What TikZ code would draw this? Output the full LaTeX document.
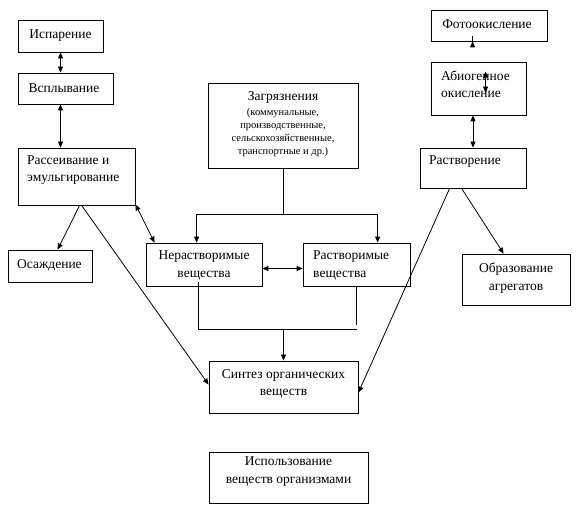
\documentclass[tikz,border=0pt]{standalone}
\usepackage{fontspec}
\setmainfont{Liberation Serif}
\usetikzlibrary{arrows.meta,calc}
\begin{document}
\begin{tikzpicture}[x=1pt,y=-1pt,
  box/.style={draw,line width=0.8pt,inner sep=0pt},
  txt/.style={inner sep=0pt,font=\fontsize{13.5}{17.5}\selectfont},
  small/.style={inner sep=0pt,font=\fontsize{10.5}{13.2}\selectfont},
  conn/.style={line width=0.8pt},
  arr/.style={conn,-{Triangle[length=6pt,width=5pt]}},
  dbl/.style={conn,{Triangle[length=6pt,width=5pt]}-{Triangle[length=6pt,width=5pt]}}]
\useasboundingbox (0,0) rectangle (578,510);
% boxes
\node[box,minimum width=85,minimum height=32,txt] (isp) at (60.5,36) {Испарение};
\node[box,minimum width=95,minimum height=31] (vsp) at (65.5,88.5) {};
\node[box,minimum width=117,minimum height=57] (ras) at (76.5,176.5) {};
\node[box,minimum width=84,minimum height=32] (osa) at (50,266) {};
\node[box,minimum width=116,minimum height=31] (foto) at (489,25.5) {};
\node[box,minimum width=95,minimum height=53] (abio) at (478.5,88.5) {};
\node[box,minimum width=106,minimum height=40] (rast) at (473,168) {};
\node[box,minimum width=108,minimum height=51] (obr) at (516,279.5) {};
\node[box,minimum width=150,minimum height=85] (zag) at (283,125.5) {};
\node[box,minimum width=116,minimum height=43] (nera) at (204,264.5) {};
\node[box,minimum width=107,minimum height=43] (raso) at (356.5,264.5) {};
\node[box,minimum width=149,minimum height=52] (sin) at (283.5,387) {};
\node[box,minimum width=159,minimum height=51] (isp2) at (288.5,477.5) {};
% texts
\node[txt] (tvsp) at (64,88) {Всплывание};
\node[txt,anchor=west,align=left] (tras) at (27,170) {Рассеивание и\\эмульгирование};
\node[txt,anchor=west] (tosa) at (17,265) {Осаждение};
\node[txt] (tfoto) at (487,24) {Фотоокисление};
\node[txt,anchor=west,align=left] (tabio) at (441,84) {Абиогенное\\окисление};
\node[txt,anchor=west] (trast) at (429,162) {Растворение};
\node[txt,align=center] (tobr) at (516,278) {Образование\\агрегатов};
\node[txt] (tzag) at (283,97) {Загрязнения};
\node[small,align=center] (tzag2) at (283,132.5) {(коммунальные,\\производственные,\\сельскохозяйственные,\\транспортные и др.)};
\node[txt,align=center] (tnera) at (204,265.5) {Нерастворимые\\вещества};
\node[txt,anchor=west,align=left] (traso) at (313,265.5) {Растворимые\\вещества};
\node[txt,align=center] (tsin) at (283.5,384) {Синтез органических\\веществ};
\node[txt,align=center] (tisp2) at (288.5,471.5) {Использование\\веществ организмами};
% connectors left
\draw[dbl] (isp.south) -- (isp.south |- vsp.north);
\draw[dbl] (vsp.south -| isp.south) -- (ras.north -| isp.south);
\draw[arr] ($(ras.south west)+(62,0)$) -- ($(osa.north west)+(50,0)$);
\draw[arr] ($(ras.south west)+(64,0)$) -- ($(sin.north west)+(0,24)$);
\draw[dbl] ($(ras.south east)+(0,-1)$) -- ($(nera.north west)+(9,0)$);
% center
\coordinate (zj) at (283,214);
\draw[conn] (zag.south) -- (zj);
\draw[arr] (zj) -| ($(nera.north west)+(51,0)$);
\draw[arr] (zj) -| ($(raso.north west)+(75,0)$);
\draw[dbl] ($(nera.east)+(0,4)$) -- ($(raso.west)+(0,4)$);
\draw[conn] ($(nera.south west)+(53,-4)$) |- ($(raso.south west)+(54,43)$);
\draw[conn] ($(raso.south west)+(54,0)$) -- ++(0,39);
\coordinate (mj) at ($(sin.north)+(0,-32)$);
\draw[arr] (mj) -- (sin.north);
% right
\draw[arr] ($(foto.south west)+(42,0)$) -- ($(foto.south west)+(42,0)$ |- abio.north);
\draw[dbl] (abio.south -| rast.north) -- (rast.north);
\draw[dbl] ($(abio.north west)+(55,10)$) -- ($(abio.north west)+(55,31)$);
\draw[arr] ($(rast.south west)+(30,0)$) -- ($(sin.north east)+(0,32)$);
\draw[arr] ($(rast.south west)+(42,0)$) -- ($(obr.north west)+(42,0)$);
\end{tikzpicture}
\end{document}
